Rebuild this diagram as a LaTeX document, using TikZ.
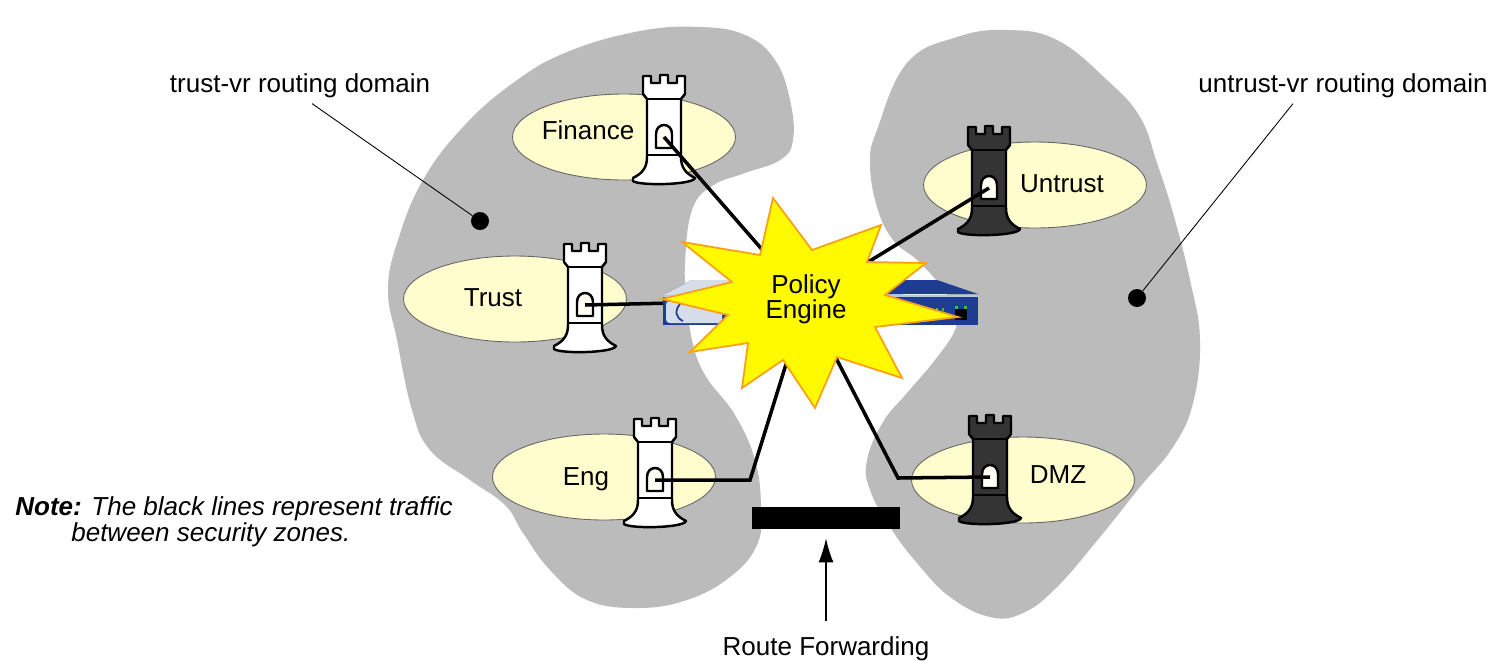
\documentclass[tikz,border=0pt]{standalone}
\usepackage{fontspec}
\setmainfont{Liberation Sans}
\usepackage{tikz}
\usetikzlibrary{shapes.geometric}
\usetikzlibrary{arrows.meta}
\definecolor{blobgray}{RGB}{187,187,187}
\definecolor{zonefill}{RGB}{255,252,206}
\definecolor{towerdark}{RGB}{52,52,52}
\definecolor{towerwin}{RGB}{255,255,245}
\definecolor{devblue}{RGB}{30,60,148}
\definecolor{devsilver}{RGB}{214,220,232}
\definecolor{starfill}{RGB}{255,250,0}
\definecolor{staredge}{RGB}{250,160,20}
\definecolor{ledgreen}{RGB}{60,190,60}

% zone tower, drawn round its window (units are px, y pointing down)
\tikzset{
  pics/tower/.style={code={
    \draw[towerline, fill=#1] (-31,41) .. controls (-21,36) and (-17,30) .. (-17,20)
      -- (-17,-38) -- (-21,-43) -- (-21,-61) -- (-13,-61) -- (-13,-54) -- (-4,-54)
      -- (-4,-62) -- (4,-62) -- (4,-54) -- (13,-54) -- (13,-61) -- (21,-61)
      -- (21,-43) -- (17,-38) -- (17,20) .. controls (17,30) and (21,36) .. (31,41)
      .. controls (29,48) and (-25,49) .. (-31,44) -- cycle;
    \draw[towerline] (-17,-38) -- (17,-38);
    \draw[towerline] (-17,18) -- (17,18);
    \draw[towerline, fill=towerwin] (-8,11) -- (-8,-3) .. controls (-8,-15) and (8,-15) .. (8,-3) -- (8,11) -- cycle;
    \coordinate (-win) at (0,0);
  }}
}

\begin{document}
\begin{tikzpicture}[x=0.02cm, y=-0.02cm,
  every node/.style={font=\fontsize{14.8}{17.8}\selectfont},
  zone/.style={ellipse, draw=black!60, line width=0.5pt, fill=zonefill, minimum width=4.46cm, minimum height=1.72cm},
  zonetext/.style={anchor=base, inner sep=0pt},
  dot/.style={circle, fill, inner sep=0pt, minimum size=0.36cm},
  leader/.style={line width=0.5pt},
  traffic/.style={line width=2pt},
  towerline/.style={line width=1.4pt, line join=round}]

\useasboundingbox (0,0) rectangle (1496,660);

% routing domains
\fill[blobgray] plot[smooth cycle, tension=0.7] coordinates {
  (640,31) (700,27) (745,35) (775,60) (790,100) (793,140) (780,160) (745,173)
  (712,186) (692,210) (685,263) (687,300) (692,340) (705,375) (735,415) (755,460)
  (761,507) (757,545) (730,577) (687,600) (637,608) (587,600) (550,570) (523,533)
  (505,505) (470,480) (430,450) (412,410) (397,340) (388,290) (398,240) (423,180)
  (463,127) (513,83) (567,52)};
\fill[blobgray] plot[smooth cycle, tension=0.7] coordinates {
  (1007,30) (1057,40) (1107,80) (1140,117) (1157,163) (1173,213) (1190,280) (1200,340)
  (1193,403) (1173,447) (1140,487) (1100,537) (1057,587) (1023,613) (990,617) (950,597)
  (917,563) (890,527) (870,490) (867,460) (883,422) (907,393) (935,360) (955,330)
  (955,310) (940,285) (917,260) (893,240) (877,207) (870,163) (877,130) (907,63) (957,37)};

\node[anchor=base] (trustdom) at (300,92) {trust-vr routing domain};
\node[dot] (trustdot) at (480,221) {};
\draw[leader] ([xshift=0.24cm]trustdom.south) -- (trustdot);
\node[anchor=base] (untrustdom) at (1343,92) {untrust-vr routing domain};
\node[dot] (untrustdot) at (1137,298) {};
\draw[leader] ([xshift=-1cm]untrustdom.south) -- (untrustdot);

% zones
\node[zone] (finance) at (624,137) {};
\node[zone] (trust) at (515,299) {};
\node[zone] (eng) at (604,477) {};
\node[zone] (untrust) at (1035,185) {};
\node[zone] (dmz) at (1023,480) {};

\node[zonetext] at (588,139) {Finance};
\node[zonetext] at (493,306) {Trust};
\node[zonetext] at (586,485) {Eng};
\node[zonetext] at (1062,192) {Untrust};
\node[zonetext] at (1058,483) {DMZ};

\pic (fintower) at (664,137) {tower=white};
\pic (trusttower) at (585,305) {tower=white};
\pic (engtower) at (655,480) {tower=white};
\pic (untrusttower) at (989,188) {tower=towerdark};
\pic (dmztower) at (990,477) {tower=towerdark};

% traffic between zones
\coordinate (engine) at (806,300);
\coordinate (engbend) at (750,480);
\coordinate (dmzbend) at (898,478);
\draw[traffic] (fintower-win) -- (engine);
\draw[traffic] (trusttower-win) -- (engine);
\draw[traffic] (untrusttower-win) -- (engine);
\draw[traffic] (engtower-win) -- (engbend) -- (engine);
\draw[traffic] (dmztower-win) -- (dmzbend) -- (engine);

% firewall box
\fill[devblue] (663,295) -- (692,280) -- (937,280) -- (978,294) -- cycle;
\fill[devsilver] (663,295) -- (692,280) -- (740,280) -- (725,295) -- cycle;
\fill[devblue] (663,295) rectangle (978,325);
\draw[white!70!devblue, line width=0.6pt] (663,296) -- (978,296);
\fill[devsilver, rounded corners=2pt] (666,301) rectangle (722,323);
\draw[devblue, line width=1pt] (680,304) .. controls (674,311) and (676,318) .. (683,321);
\fill[black!75] (936,311) rectangle (944,318);
\fill[ledgreen] (936,308) rectangle (938,311);
\fill[ledgreen] (942,308) rectangle (944,311);
\fill[black] (955,309) rectangle (967,320);
\fill[ledgreen] (955,306) rectangle (958,309);
\fill[ledgreen] (964,306) rectangle (967,309);

% policy engine burst
\filldraw[fill=starfill, draw=staredge, line width=1pt, line join=miter]
  (773,198) -- (812,250) -- (881,225) -- (867,262) -- (926,263) -- (885,295)
  -- (958,317) -- (875,327) -- (902,378) -- (837,357) -- (815,408) -- (783,360)
  -- (742,388) -- (748,343) -- (690,352) -- (728,315) -- (662,299) -- (732,282)
  -- (682,242) -- (760,255) -- cycle;
\node[align=center, anchor=base, inner sep=0pt, font=\fontsize{14.8}{14.2}\selectfont] (enginelbl) at (806,318) {Policy\\Engine};

% route forwarding
\node[fill=black, minimum width=2.96cm, minimum height=0.44cm, inner sep=0pt] (fwdbar) at (826,518) {};
\node[anchor=base] (fwdlbl) at (826,655) {Route Forwarding};
\draw[line width=0.8pt, -{Latex[length=0.48cm, width=0.3cm]}, shorten <=0.18cm, shorten >=0.18cm] (fwdlbl) -- (fwdbar);

\node[anchor=base west, align=left, inner sep=0pt, font=\fontsize{14.8}{14.5}\selectfont\itshape] (note) at (15,541)
  {\textbf{Note:} The black lines represent traffic\\\hspace*{1.12cm}between security zones.};
\end{tikzpicture}
\end{document}
